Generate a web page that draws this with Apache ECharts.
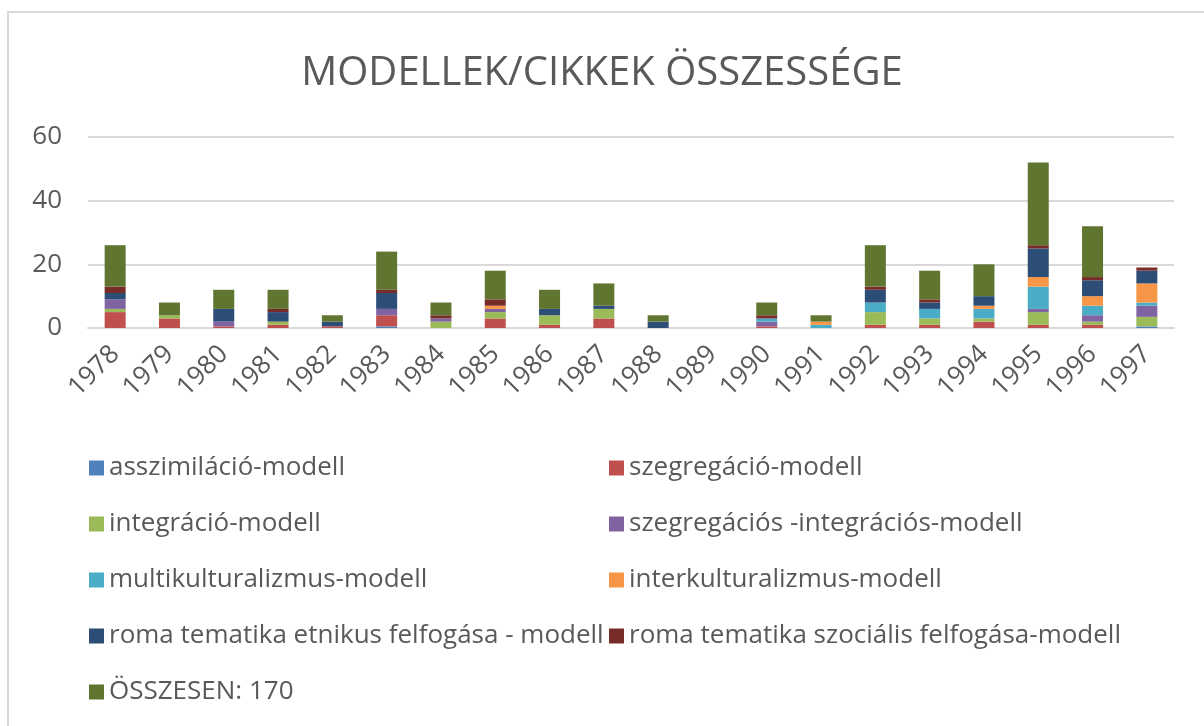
<!DOCTYPE html>
<html>
<head>
<meta charset="utf-8">
<style>
  html, body { margin: 0; padding: 0; background: #fff; }
  #chart { width: 1204px; height: 726px; }
</style>
<script src="https://cdn.jsdelivr.net/npm/echarts@6/dist/echarts.min.js"></script>
</head>
<body>
<div id="chart"></div>
<script>
// evek
const years = ['1978', '1979', '1980', '1981', '1982', '1983', '1984', '1985', '1986', '1987',
  '1988', '1989', '1990', '1991', '1992', '1993', '1994', '1995', '1996', '1997']

// modellek, evenkent
const asszimilacio = [0, 0, 0, 0, 0, 0.5, 0, 0, 0, 0, 0, 0, 0, 0, 0, 0, 0, 0, 0, 0.5]
const szegregacio = [5, 3, 0.5, 1, 0.5, 3.5, 0, 3, 1, 3, 0, 0, 0.5, 0, 1, 1, 2, 1, 1, 0]
const integracio = [1, 1, 0, 1, 0, 0, 2, 2, 3, 3, 0, 0, 0, 0, 4, 2, 1, 4, 1, 3]
const szegInteg = [3, 0, 1.5, 0, 0, 2, 1, 1, 0, 0, 0, 0, 1.5, 0, 0, 0, 0, 1, 2, 3.5]
const multikult = [0, 0, 0, 0, 0, 0, 0, 0, 0, 0, 0, 0, 1, 1, 3, 3, 3, 7, 3, 1]
const interkult = [0, 0, 0, 0, 0, 0, 0, 1, 0, 0, 0, 0, 0, 1, 0, 0, 1, 3, 3, 6]
const romaEtnikus = [2, 0, 4, 3, 1.5, 5, 0, 0, 2, 1, 2, 0, 0, 0, 4, 2, 3, 9, 5, 4]
const romaSzocialis = [2, 0, 0, 1, 0, 1, 1, 2, 0, 0, 0, 0, 1, 0, 1, 1, 0, 1, 1, 1]
const osszesen = [13, 4, 6, 6, 2, 12, 4, 9, 6, 7, 2, 0, 4, 2, 13, 9, 10, 26, 16, 0]

const seriesDefs = [
  { name: 'asszimiláció-modell', data: asszimilacio, color: '#4f81bd' },
  { name: 'szegregáció-modell', data: szegregacio, color: '#c0504d' },
  { name: 'integráció-modell', data: integracio, color: '#9bbb59' },
  { name: 'szegregációs -integrációs-modell', data: szegInteg, color: '#8064a2' },
  { name: 'multikulturalizmus-modell', data: multikult, color: '#4bacc6' },
  { name: 'interkulturalizmus-modell', data: interkult, color: '#f79646' },
  { name: 'roma tematika etnikus felfogása - modell', data: romaEtnikus, color: '#2c4d75' },
  { name: 'roma tematika szociális felfogása-modell', data: romaSzocialis, color: '#772c2a' },
  { name: 'ÖSSZESEN: 170', data: osszesen, color: '#5f7530' }
]

const font = '"Open Sans", "Liberation Sans", sans-serif'
const textColor = '#595959'

const chart = echarts.init(document.getElementById('chart'))

const legendBase = {
  orient: 'vertical',
  top: 450,
  itemWidth: 15,
  itemHeight: 15,
  itemGap: 30,
  icon: 'rect',
  textStyle: { fontFamily: font, fontSize: 26, color: textColor, lineHeight: 26 }
}

chart.setOption({
  animation: false,
  title: {
    text: 'MODELLEK/CIKKEK ÖSSZESSÉGE',
    left: 'center',
    top: 49,
    textStyle: {
      fontFamily: font,
      fontWeight: 'normal',
      fontSize: 40,
      color: textColor
    }
  },
  graphic: [
    {
      type: 'rect',
      shape: { x: 8, y: 12, width: 1210, height: 730 },
      style: { fill: 'none', stroke: '#d9d9d9', lineWidth: 2 },
      silent: true
    }
  ],
  legend: [
    Object.assign({}, legendBase, {
      left: 84,
      data: [seriesDefs[0].name, seriesDefs[2].name, seriesDefs[4].name, seriesDefs[6].name, seriesDefs[8].name]
    }),
    Object.assign({}, legendBase, {
      left: 604,
      data: [seriesDefs[1].name, seriesDefs[3].name, seriesDefs[5].name, seriesDefs[7].name]
    })
  ],
  grid: {
    left: 88,
    right: 30,
    top: 137,
    bottom: 398
  },
  xAxis: {
    type: 'category',
    data: years,
    axisLine: { show: true, lineStyle: { color: '#d9d9d9', width: 2 } },
    axisTick: { show: false },
    axisLabel: {
      rotate: 45,
      margin: 22,
      fontFamily: font,
      fontSize: 26,
      color: textColor
    }
  },
  yAxis: {
    type: 'value',
    min: 0,
    max: 60,
    interval: 20,
    axisLine: { show: false },
    axisTick: { show: false },
    splitLine: { lineStyle: { color: '#d9d9d9', width: 2 } },
    axisLabel: {
      margin: 26,
      fontFamily: font,
      fontSize: 26,
      color: textColor
    }
  },
  series: seriesDefs.map(s => ({
    name: s.name,
    type: 'bar',
    stack: 'total',
    barWidth: 21,
    data: s.data,
    itemStyle: { color: s.color }
  }))
})
</script>
</body>
</html>
